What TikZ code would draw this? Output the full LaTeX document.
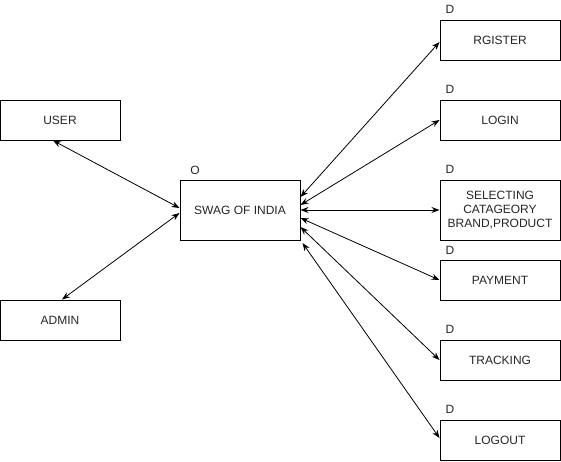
\documentclass[tikz,border=0pt]{standalone}
\usepackage{fontspec}
\setmainfont{Liberation Sans}
\usetikzlibrary{arrows.meta}
\begin{document}
\begin{tikzpicture}[x=1pt,y=-1pt,
  box/.style={draw=black,line width=1pt,fill=white,minimum width=120pt,minimum height=40pt,inner sep=0pt,align=center,font=\fontsize{12}{14}\selectfont,text=black!85},
  tall/.style={minimum height=60pt},
  tag/.style={inner sep=0pt,font=\fontsize{12}{14}\selectfont,text=black!85},
  link/.style={line width=0.8pt,{Stealth[length=8pt,width=6pt]}-{Stealth[length=8pt,width=6pt]}}]
\useasboundingbox (0,0) rectangle (561,461);
\node[box] (user) at (60,120) {USER};
\node[box] (admin) at (60,320) {ADMIN};
\node[box,tall] (swag) at (240,210) {SWAG OF INDIA};
\node[box] (reg) at (500,40) {RGISTER};
\node[box] (login) at (500,120) {LOGIN};
\node[box,tall] (sel) at (500,210) {SELECTING\\CATAGEORY\\BRAND,PRODUCT};
\node[box] (pay) at (500,280) {PAYMENT};
\node[box] (track) at (500,360) {TRACKING};
\node[box] (logout) at (500,440) {LOGOUT};
\node[tag] (o) at (195,170) {O};
\node[tag] (d1) at (450,9) {D};
\node[tag] (d2) at (450,89) {D};
\node[tag] (d3) at (450,169) {D};
\node[tag] (d4) at (450,250) {D};
\node[tag] (d5) at (450,329) {D};
\node[tag] (d6) at (450,409) {D};
\draw[link] ([xshift=-7pt]user.south) -- ([yshift=2pt]swag.west);
\draw[link] ([xshift=2pt]admin.north) -- ([yshift=-3pt]swag.west);
\draw[link] ([yshift=13pt]swag.east) -- ([yshift=-2pt]reg.west);
\draw[link] ([yshift=5pt]swag.east) -- (login.west);
\draw[link] (swag.east) -- (sel.west);
\draw[link] ([yshift=-8pt]swag.east) -- (pay.west);
\draw[link] ([yshift=-17pt]swag.east) -- (track.west);
\draw[link] ([xshift=2pt,yshift=-33pt]swag.east) -- ([yshift=2pt]logout.west);
\end{tikzpicture}
\end{document}
